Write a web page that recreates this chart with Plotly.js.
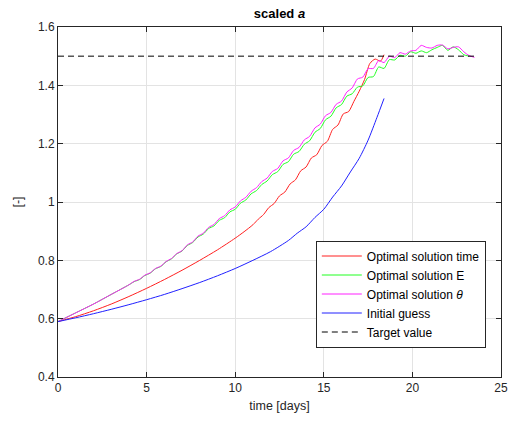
<!DOCTYPE html>
<html>
<head>
<meta charset="utf-8">
<script src="https://cdn.plot.ly/plotly-3.0.1.min.js"></script>
<style>html,body{margin:0;padding:0;background:#fff;}#chart{width:510px;height:423px;}</style>
</head>
<body>
<div id="chart"></div>
<script>
// ---- data ----
const legendNames = ["Optimal solution time", "Optimal solution E", "Optimal solution <i>θ</i>", "Initial guess", "Target value"];

const tOpt = [0,1,2,3,4,4.3,4.6,4.9,5.2,5.5,5.8,6.1,6.4,6.7,7.0,7.3,7.6,7.9,8.2,8.5,8.8,9.1,9.4,9.7,10.0,
  10.3,10.6,10.9,11.2,11.5,11.8,12.1,12.4,12.7,13.0,13.3,13.6,13.9,14.2,14.5,14.8,15.1,15.4,15.7,16.0,
  16.3,16.6,16.9,17.2,17.5,17.8,18.1,18.4,18.7,19.0,19.3,19.6,19.9,20.2,20.5,20.8,21.1,21.4,21.7,22.0,
  22.3,22.6,22.9,23.2,23.5];

const aTheta = [0.59,0.62,0.65,0.683,0.716,0.728,0.735,0.749,0.757,0.772,0.780,0.796,0.806,0.823,0.833,0.853,0.863,0.883,0.893,0.913,0.923,0.943,0.953,0.973,0.983,
  1.004,1.016,1.037,1.049,1.070,1.082,1.105,1.115,1.141,1.151,1.177,1.187,1.213,1.225,1.254,1.267,1.296,1.307,1.335,1.346,
  1.377,1.391,1.422,1.428,1.457,1.458,1.485,1.478,1.500,1.495,1.512,1.507,1.518,1.520,1.537,1.530,1.528,1.537,1.538,1.525,
  1.530,1.532,1.515,1.502,1.496];

const tE = tOpt.slice(0, tOpt.length - 1);
const aE = [0.59,0.62,0.65,0.683,0.716,0.727,0.734,0.748,0.756,0.771,0.779,0.795,0.805,0.822,0.832,0.851,0.861,0.880,0.890,0.909,0.918,0.937,0.946,0.966,0.975,
  0.996,1.007,1.028,1.039,1.060,1.072,1.094,1.104,1.129,1.138,1.164,1.173,1.198,1.210,1.239,1.252,1.282,1.294,1.323,1.334,
  1.363,1.371,1.394,1.398,1.427,1.430,1.463,1.458,1.488,1.487,1.503,1.500,1.515,1.510,1.518,1.512,1.522,1.530,1.537,1.520,
  1.532,1.522,1.505,1.500];

const tTime = [0,1,2,3,4,5,6,7,8,9,10,10.5,11.0,11.3,11.6,11.9,12.2,12.5,12.8,13.1,13.4,13.7,14.0,14.3,14.6,14.9,15.2,15.5,15.8,
  16.1,16.4,16.7,17.0,17.3,17.6,17.9,18.2,18.4];
const aTime = [0.59,0.607,0.627,0.65,0.676,0.704,0.734,0.766,0.800,0.836,0.876,0.898,0.922,0.941,0.957,0.981,0.995,1.021,1.034,1.062,1.076,1.107,1.120,1.151,1.162,1.194,1.208,1.249,1.264,
  1.302,1.310,1.345,1.380,1.420,1.475,1.490,1.483,1.505];

const tGuess = [0,1,2,3,4,5,6,7,8,9,10,11,12,13,13.5,14,14.5,15,15.5,16,16.5,17,17.5,18,18.4];
const aGuess = [0.59,0.603,0.617,0.632,0.648,0.665,0.683,0.703,0.724,0.747,0.772,0.80,0.83,0.868,0.893,0.915,0.947,0.975,1.017,1.055,1.103,1.15,1.212,1.29,1.355];

const tTarget = [0, 23.6];
const aTarget = [1.5, 1.5];

const xTicks = [0,5,10,15,20,25];
const yTicks = [0.4,0.6,0.8,1,1.2,1.4,1.6];

const axisCol = '#262626';
const gridCol = '#e3e3e3';
const fontFam = '"Liberation Sans", Arial, Helvetica, sans-serif';

const traces = [
  {x: tTime, y: aTime, name: legendNames[0], mode: 'lines', line: {color: '#ff2020', width: 1, shape: 'spline', smoothing: 0.7}},
  {x: tE, y: aE, name: legendNames[1], mode: 'lines', line: {color: '#20ff20', width: 1, shape: 'spline', smoothing: 0.7}},
  {x: tOpt, y: aTheta, name: legendNames[2], mode: 'lines', line: {color: '#ff20ff', width: 1, shape: 'spline', smoothing: 0.7}},
  {x: tGuess, y: aGuess, name: legendNames[3], mode: 'lines', line: {color: '#2020ff', width: 1, shape: 'spline', smoothing: 0.7}},
  {x: tTarget, y: aTarget, name: legendNames[4], mode: 'lines', line: {color: '#000000', width: 1, dash: '6px,4px'}}
];

const layout = {
  width: 510, height: 423,
  paper_bgcolor: '#ffffff', plot_bgcolor: '#ffffff',
  margin: {l: 58, r: 9, t: 27, b: 46},
  font: {family: fontFam, size: 12, color: axisCol},
  title: {text: '<b>scaled <i>a</i></b>', x: 0.5, xref: 'paper', xanchor: 'center', y: 0.968, yanchor: 'middle', font: {size: 13, color: '#000'}},
  xaxis: {
    range: [0, 25], tickvals: xTicks, ticktext: xTicks.map(String),
    showgrid: true, gridcolor: gridCol, gridwidth: 1, zeroline: false,
    showline: true, linecolor: axisCol, linewidth: 1, mirror: 'ticks',
    ticks: 'inside', ticklen: 5, tickcolor: axisCol,
    tickfont: {size: 12, color: axisCol},
    title: {text: 'time [days]', font: {size: 12.5, color: axisCol}, standoff: 6}
  },
  yaxis: {
    range: [0.4, 1.6], tickvals: yTicks, ticktext: yTicks.map(String),
    showgrid: true, gridcolor: gridCol, gridwidth: 1, zeroline: false,
    showline: true, linecolor: axisCol, linewidth: 1, mirror: 'ticks',
    ticks: 'inside', ticklen: 5, tickcolor: axisCol,
    tickfont: {size: 12, color: axisCol},
    title: {text: '[-]', font: {size: 12.5, color: axisCol}, standoff: 12}
  },
  showlegend: true,
  legend: {
    x: 0.582, y: 0.39, xanchor: 'left', yanchor: 'top',
    bgcolor: '#ffffff', bordercolor: axisCol, borderwidth: 1,
    font: {size: 12, color: '#000'}, itemwidth: 40, tracegroupgap: 0,
    traceorder: 'normal'
  }
};

Plotly.newPlot('chart', traces, layout, {staticPlot: true, displayModeBar: false});
</script>
</body>
</html>
